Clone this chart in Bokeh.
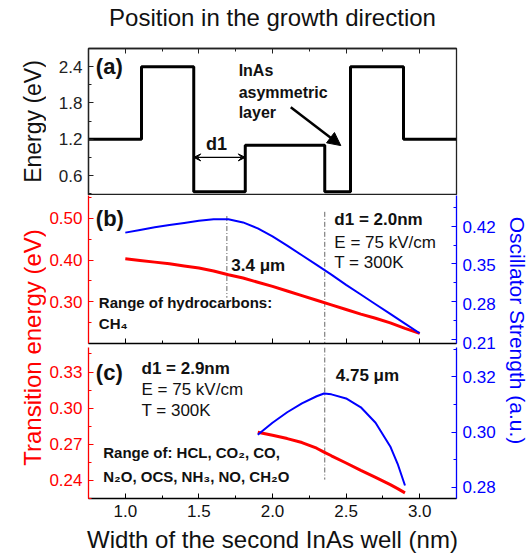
import numpy as np
from bokeh.plotting import figure
from bokeh.models import (Range1d, LinearAxis, SingleIntervalTicker,
                          NumeralTickFormatter, Arrow, NormalHead, VeeHead,
                          CustomLabelingPolicy, GridBox)
from bokeh.layouts import row
from bokeh.embed import file_html
from bokeh.resources import INLINE
from bokeh.core.properties import value

# ---------------- data ----------------
# (a) conduction band profile along the growth direction
layer_edges = [0.75, 1.11, 1.465, 1.815, 2.355, 2.53, 2.89, 3.25]
layer_energy = [1.2, 2.4, 0.33, 1.1, 0.33, 2.4, 1.2, 1.2]

# (b) d1 = 2.0 nm
width_b = [1.0, 1.1, 1.2, 1.3, 1.4, 1.5, 1.6, 1.7, 1.8, 1.9, 2.0,
           2.1, 2.2, 2.3, 2.4, 2.5, 2.6, 2.7, 2.8, 2.9, 3.0]
energy_b = [0.403, 0.399, 0.395, 0.391, 0.386, 0.381, 0.374, 0.365, 0.357, 0.347, 0.337,
            0.326, 0.315, 0.304, 0.293, 0.282, 0.271, 0.261, 0.250, 0.237, 0.225]
osc_b = [0.408, 0.413, 0.418, 0.422, 0.426, 0.430, 0.433, 0.433, 0.427, 0.416, 0.401,
         0.384, 0.366, 0.348, 0.330, 0.311, 0.293, 0.275, 0.257, 0.239, 0.221]

# (c) d1 = 2.9 nm
width_c = [1.9, 2.0, 2.1, 2.2, 2.3, 2.35, 2.4, 2.5, 2.6, 2.7, 2.8, 2.85, 2.9]
energy_c = [0.2800, 0.2775, 0.2747, 0.2714, 0.2667, 0.2635, 0.2604, 0.2544, 0.2483,
            0.2425, 0.2364, 0.2331, 0.2296]
osc_c = [0.2990, 0.3034, 0.3072, 0.3104, 0.3130, 0.3140, 0.3137, 0.3122, 0.3090,
         0.3034, 0.2948, 0.2885, 0.2806]

# marked widths (dash-dot guides)
peak_b = 1.69
peak_c = 2.355

# axis ranges
osc_b_lo, osc_b_hi = 0.202, 0.477

# ---------------- style ----------------
FONT = "Liberation Sans"
RED = "#ff0000"
BLUE = "#0000ff"
INK = "#111111"
TICK_FS = "17px"
FIG_W = 454
BL, BR = 39, 44
HA, HB, HC = 195, 152, 208
BOT_C = 56

x_range = Range1d(0.75, 3.25)

NO_LABELS = CustomLabelingPolicy(code="""
for (const i of indices) { indices.unset(i) }
return indices
""")


def base_fig(height, y_range, top, bottom, x_loc="below"):
    p = figure(width=FIG_W, height=height, x_range=x_range, y_range=y_range,
               output_backend="svg", toolbar_location=None,
               min_border_left=BL, min_border_right=BR,
               min_border_top=top, min_border_bottom=bottom,
               x_axis_location=x_loc)
    p.xgrid.visible = False
    p.ygrid.visible = False
    p.background_fill_color = "white"
    p.border_fill_color = "white"
    return p


def style_axis(ax, color, interval, fmt, labels=True):
    ax.ticker = SingleIntervalTicker(interval=interval, num_minor_ticks=2)
    ax.formatter = NumeralTickFormatter(format=fmt)
    ax.axis_line_color = color
    ax.axis_line_width = 1.3
    ax.major_tick_line_color = color
    ax.minor_tick_line_color = color
    ax.major_tick_in = 5
    ax.major_tick_out = 0
    ax.minor_tick_in = 3
    ax.minor_tick_out = 0
    ax.major_label_text_color = color
    ax.major_label_text_font = FONT
    if labels:
        ax.major_label_text_font_size = TICK_FS
        ax.major_label_standoff = 6
    else:
        ax.major_label_text_font_size = "1px"
        ax.major_label_standoff = 0
        ax.major_label_policy = NO_LABELS


def add_text(p, x, y, txt, size, bold=False, align="left"):
    p.text(x=[x], y=[y], text=[txt], text_font=value(FONT),
           text_font_size=size, text_font_style="bold" if bold else "normal",
           text_color=INK, text_align=align, text_baseline="middle")


# ---------------- panel (a) ----------------
fa = base_fig(HA, Range1d(0.27, 2.70), top=47, bottom=0, x_loc="above")
fa.outline_line_color = "#222222"
fa.outline_line_width = 1.3
style_axis(fa.yaxis[0], "#222222", 0.6, "0.0")
style_axis(fa.xaxis[0], "#222222", 0.5, "0.0", labels=False)
fa.xaxis[0].axis_label = "Position in the growth direction"
fa.xaxis[0].axis_label_text_font = FONT
fa.xaxis[0].axis_label_text_font_size = "24px"
fa.xaxis[0].axis_label_text_font_style = "normal"
fa.xaxis[0].axis_label_text_color = INK
fa.xaxis[0].axis_label_standoff = 14

fa.step(x=layer_edges, y=layer_energy, mode="after", line_width=3, color="black")
add_text(fa, 0.80, 2.40, "(a)", "22px", bold=True)
add_text(fa, 1.77, 2.34, "InAs", "16px", bold=True)
add_text(fa, 1.77, 1.98, "asymmetric", "16px", bold=True)
add_text(fa, 1.77, 1.64, "layer", "16px", bold=True)
add_text(fa, 1.62, 1.12, "d1", "18px", bold=True, align="center")
fa.add_layout(Arrow(end=NormalHead(size=13, fill_color="black", line_color="black"),
                    x_start=2.124, y_start=1.73, x_end=2.464, y_end=1.095,
                    line_width=2.5, line_color="black"))
fa.add_layout(Arrow(start=VeeHead(size=7, fill_color="black", line_color="black"),
                    end=VeeHead(size=7, fill_color="black", line_color="black"),
                    x_start=layer_edges[2], y_start=0.9,
                    x_end=layer_edges[3], y_end=0.9,
                    line_width=1.2, line_color="black"))

# ---------------- panel (b) ----------------
fb = base_fig(HB, Range1d(0.2008, 0.554), top=0, bottom=0)
fb.outline_line_color = None
fb.extra_y_ranges = {"osc": Range1d(osc_b_lo, osc_b_hi)}
fb.add_layout(LinearAxis(y_range_name="osc"), "right")
style_axis(fb.yaxis[0], RED, 0.1, "0.00")
style_axis(fb.yaxis[1], BLUE, 0.07, "0.00", labels=False)
style_axis(fb.xaxis[0], "black", 0.5, "0.0", labels=False)

fb.segment(x0=[peak_b], y0=[0.505], x1=[peak_b], y1=[0.31],
           line_color="#666666", line_width=1, line_dash="5 2 1 2")
fb.segment(x0=[peak_c], y0=[0.515], x1=[peak_c], y1=[0.2],
           line_color="#666666", line_width=1, line_dash="5 2 1 2")
fb.line(width_b, energy_b, color=RED, line_width=3)
fb.line(width_b, osc_b, color=BLUE, line_width=2, y_range_name="osc")

add_text(fb, 0.80, 0.500, "(b)", "22px", bold=True)
add_text(fb, 2.42, 0.496, "d1 = 2.0nm", "17px", bold=True)
add_text(fb, 2.42, 0.443, "E = 75 kV/cm", "17px")
add_text(fb, 2.42, 0.395, "T = 300K", "17px")
add_text(fb, 1.72, 0.387, "3.4 μm", "17px", bold=True)
add_text(fb, 0.82, 0.298, "Range of hydrocarbons:", "15px", bold=True)
add_text(fb, 0.82, 0.248, "CH₄", "15px", bold=True)

# transparent overlay over (b)+(c) carrying the (b) oscillator-strength tick
# labels, so that the lowest one is not cut at the (b)/(c) seam
ov_frame = HB + HC - BOT_C
ov = figure(width=FIG_W, height=HB + HC, x_range=x_range,
            y_range=Range1d(osc_b_hi - (osc_b_hi - osc_b_lo) * ov_frame / HB, osc_b_hi),
            output_backend="svg", toolbar_location=None,
            min_border_left=BL, min_border_right=BR, min_border_top=0,
            min_border_bottom=BOT_C,
            x_axis_location=None, y_axis_location="right")
ov.xgrid.visible = False
ov.ygrid.visible = False
ov.outline_line_color = None
ov.background_fill_color = None
ov.border_fill_color = None
ova = ov.yaxis[0]
style_axis(ova, BLUE, 0.07, "0.00")
ova.bounds = (osc_b_lo, osc_b_hi)
ova.axis_line_color = None
ova.major_tick_line_color = None
ova.minor_tick_line_color = None

# ---------------- panel (c) ----------------
fc = base_fig(HC, Range1d(0.2249, 0.3504), top=0, bottom=BOT_C)
fc.outline_line_color = None
fc.extra_y_ranges = {"osc": Range1d(0.2759, 0.3307)}
fc.add_layout(LinearAxis(y_range_name="osc"), "right")
style_axis(fc.yaxis[0], RED, 0.03, "0.00")
style_axis(fc.yaxis[1], BLUE, 0.02, "0.00")
style_axis(fc.xaxis[0], "black", 0.5, "0.0")
fc.xaxis[0].major_label_text_color = INK
fc.xaxis[0].axis_label = "Width of the second InAs well (nm)"
fc.xaxis[0].axis_label_text_font = FONT
fc.xaxis[0].axis_label_text_font_size = "24px"
fc.xaxis[0].axis_label_text_font_style = "normal"
fc.xaxis[0].axis_label_text_color = INK
fc.xaxis[0].axis_label_standoff = 6

fc.segment(x0=[peak_c], y0=[0.3504], x1=[peak_c], y1=[0.2406],
           line_color="#666666", line_width=1, line_dash="5 2 1 2")
fc.line(width_c, energy_c, color=RED, line_width=3)
fc.line(width_c, osc_c, color=BLUE, line_width=2, y_range_name="osc")

add_text(fc, 0.80, 0.330, "(c)", "22px", bold=True)
add_text(fc, 1.11, 0.333, "d1 = 2.9nm", "17px", bold=True)
add_text(fc, 1.11, 0.3157, "E = 75 kV/cm", "17px")
add_text(fc, 1.11, 0.2978, "T = 300K", "17px")
add_text(fc, 2.43, 0.3273, "4.75 μm", "17px", bold=True)
add_text(fc, 0.85, 0.2629, "Range of: HCL, CO₂, CO,", "15px", bold=True)
add_text(fc, 0.85, 0.2433, "N₂O, OCS, NH₃, NO, CH₂O", "15px", bold=True)

# ---------------- side titles ----------------
H = HA + HB + HC


def label_fig(w):
    p = figure(width=w, height=H, x_range=Range1d(0, w), y_range=Range1d(0, H),
               output_backend="svg", toolbar_location=None,
               min_border=0, x_axis_location=None, y_axis_location=None)
    p.xgrid.visible = False
    p.ygrid.visible = False
    p.outline_line_color = None
    return p


fl = label_fig(46)
fl.text(x=[32], y=[H - 121], text=["Energy (eV)"], angle=np.pi / 2,
        text_font=value(FONT), text_font_size="23px", text_color=INK,
        text_align="center", text_baseline="middle")
fl.text(x=[32], y=[H - 347], text=["Transition energy (eV)"], angle=np.pi / 2,
        text_font=value(FONT), text_font_size="24px", text_color=RED,
        text_align="center", text_baseline="middle")

fr = label_fig(30)
fr.text(x=[17], y=[H - 330], text=["Oscillator Strength (a.u.)"], angle=-np.pi / 2,
        text_font=value(FONT), text_font_size="21px", text_color=BLUE,
        text_align="center", text_baseline="middle")

panels = GridBox(children=[
    (fa, 0, 0),
    (fb, 1, 0),
    (fc, 2, 0),
    (ov, 1, 0, 2, 1),
], spacing=0)

layout = row(fl, panels, fr, spacing=0)

open("out.html", "w").write(file_html(layout, INLINE))
